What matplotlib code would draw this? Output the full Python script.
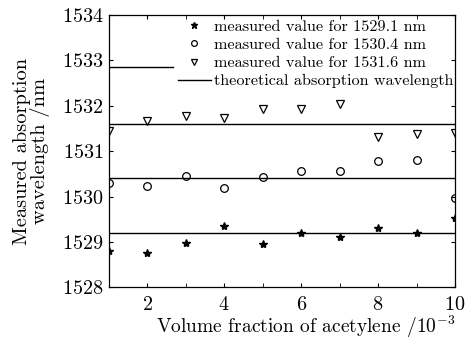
import matplotlib
matplotlib.use("Agg")
import matplotlib.pyplot as plt

plt.rcParams['font.family'] = ['cmr10', 'DejaVu Serif']
plt.rcParams['mathtext.fontset'] = 'cm'
plt.rcParams['axes.formatter.use_mathtext'] = True

x = [1, 2, 3, 4, 5, 6, 7, 8, 9, 10]
star_vals = [1528.80, 1528.75, 1528.98, 1529.36, 1528.95, 1529.20, 1529.11, 1529.30, 1529.19, 1529.53]
circle_vals = [1530.29, 1530.24, 1530.45, 1530.20, 1530.43, 1530.57, 1530.57, 1530.78, 1530.80, 1529.98]
tri_vals = [1531.45, 1531.67, 1531.78, 1531.73, 1531.93, 1531.93, 1532.04, 1531.31, 1531.38, 1531.41]
theory = [1529.2, 1530.4, 1531.6]
stray_line_y = 1532.86
stray_line_x = [1, 2.67]
x_major = [2, 4, 6, 8, 10]
x_minor = [3, 5, 7, 9]
y_ticks = [1528, 1529, 1530, 1531, 1532, 1533, 1534]

labels = ['measured value for 1529.1 nm', 'measured value for 1530.4 nm',
          'measured value for 1531.6 nm', 'theoretical absorption wavelength']

fig = plt.figure(figsize=(4.71, 3.39), dpi=100)
ax = fig.add_axes([0.231, 0.152, 0.735, 0.804])

h1, = ax.plot(x, star_vals, linestyle='none', marker='*', color='black', markersize=6)
h2, = ax.plot(x, circle_vals, linestyle='none', marker='o', mfc='none', mec='black', markersize=5.5, mew=0.9)
h3, = ax.plot(x, tri_vals, linestyle='none', marker='v', mfc='none', mec='black', markersize=6, mew=0.9)
h4 = None
for t in theory:
    h4, = ax.plot([1, 10], [t, t], color='black', linewidth=1.0)
ax.plot(stray_line_x, [stray_line_y, stray_line_y], color='black', linewidth=1.0)

ax.set_xlim(1, 10)
ax.set_ylim(1528, 1534)
ax.set_xticks(x_major)
ax.set_xticks(x_minor, minor=True)
ax.set_yticks(y_ticks)
ax.tick_params(which='both', direction='in', top=True, right=True, length=3, labelsize=14.5)
ax.tick_params(axis='x', which='major', pad=6)
ax.tick_params(axis='y', pad=4)
for s in ax.spines.values():
    s.set_linewidth(0.9)

ax.set_xlabel(r'Volume fraction of acetylene /$10^{-3}$', fontsize=14.0)
ax.xaxis.set_label_coords(0.57, -0.097, transform=ax.transAxes)
ax.xaxis.label.set_va('top')
ax.set_ylabel('Measured absorption\nwavelength /nm', fontsize=14.7, labelpad=8, linespacing=0.95)

leg = ax.legend([h1, h2, h3, h4], labels, loc='upper right', bbox_to_anchor=(1.0, 0.99),
                frameon=False, fontsize=11.7, handlelength=2.0, handletextpad=0.2,
                labelspacing=0.24, borderpad=0.1, borderaxespad=0.0, markerscale=0.75)

fig.savefig('out.png', dpi=100)
